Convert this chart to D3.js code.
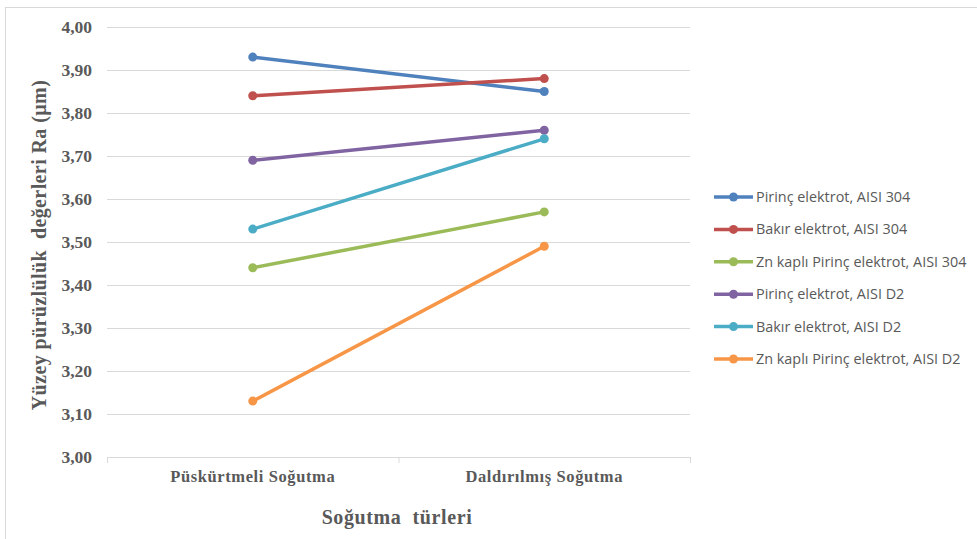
<!DOCTYPE html>
<html><head><meta charset="utf-8">
<script src="https://cdn.jsdelivr.net/npm/d3@7/dist/d3.min.js"></script>
<style>body{margin:0;background:#fff}svg{display:block}</style>
</head><body>
<svg id="c" width="977" height="539"></svg>
<script>
const categories = ["Püskürtmeli Soğutma", "Daldırılmış Soğutma"];
const seriesNames = ["Pirinç elektrot, AISI 304","Bakır elektrot, AISI 304","Zn kaplı Pirinç elektrot, AISI 304","Pirinç elektrot, AISI D2","Bakır elektrot, AISI D2","Zn kaplı Pirinç elektrot, AISI D2"];
const pirinc304 = [3.93, 3.85];
const bakir304 = [3.84, 3.88];
const zn304 = [3.44, 3.57];
const pirincD2 = [3.69, 3.76];
const bakirD2 = [3.53, 3.74];
const znD2 = [3.13, 3.49];
const colors = ["#4F81BD","#C0504D","#9BBB59","#8064A2","#4BACC6","#F79646"];
const yTicks = [3.0,3.1,3.2,3.3,3.4,3.5,3.6,3.7,3.8,3.9,4.0];
const yTitle = "Yüzey pürüzlülük  değerleri Ra (µm)";
const xTitle = "Soğutma  türleri";

const seriesValues = [pirinc304, bakir304, zn304, pirincD2, bakirD2, znD2];
const svg = d3.select("#c");
svg.append("rect").attr("x",5.5).attr("y",7.5).attr("width",1000).attr("height",600)
  .attr("fill","#fff").attr("stroke","#d9d9d9");

const pL=107, pR=690, pT=27, pB=457;
const x = d3.scaleBand().domain(categories).range([pL,pR]);
const y = d3.scaleLinear().domain([3.0,4.0]).range([pB,pT]);
const fmt = d => d.toFixed(2).replace(".", ",");

const serif = "'Liberation Serif','DejaVu Serif',serif";
// grid
svg.append("g").selectAll("line").data(yTicks).join("line")
  .attr("x1",pL).attr("x2",pR).attr("y1",d=>Math.round(y(d))+0.5).attr("y2",d=>Math.round(y(d))+0.5)
  .attr("stroke","#d9d9d9").attr("stroke-width",1);
// x ticks
const tickXs = [pL, ...categories.slice(1).map(c=>x(c)), pR];
svg.append("g").selectAll("line").data(tickXs).join("line")
  .attr("x1",d=>d+0.5).attr("x2",d=>d+0.5).attr("y1",pB).attr("y2",pB+6)
  .attr("stroke","#d9d9d9");
// y labels
const yAxis = d3.axisLeft(y).tickValues(yTicks).tickFormat(fmt).tickSize(0).tickPadding(15);
const ga = svg.append("g").attr("transform",`translate(${pL},0)`).call(yAxis);
ga.select(".domain").remove();
ga.selectAll("text").style("font-family",serif).style("font-weight","bold").style("font-size","17.5px").attr("fill","#595959");
// x labels
const xAxis = d3.axisBottom(x).tickSize(0).tickPadding(13);
const gx = svg.append("g").attr("transform",`translate(0,${pB})`).call(xAxis);
gx.select(".domain").remove();
gx.selectAll("text").style("font-family",serif).style("font-weight","bold").style("font-size","16.5px")
  .style("letter-spacing","0.6px").attr("fill","#595959");

// titles
svg.append("text").attr("transform",`translate(46,${(pT+pB)/2 + 3}) rotate(-90)`)
  .attr("text-anchor","middle").style("font-family",serif).style("font-weight","bold")
  .style("font-size","20px").style("letter-spacing","0.4px").attr("fill","#595959").style("white-space","pre").text(yTitle);
svg.append("text").attr("x",397).attr("y",524).attr("text-anchor","middle")
  .style("font-family",serif).style("font-weight","bold").style("font-size","20px").style("letter-spacing","0.6px").attr("fill","#595959")
  .style("white-space","pre").text(xTitle);

// lines
const line = d3.line().x((d,i)=>x(categories[i])+x.bandwidth()/2).y(d=>y(d));
seriesValues.forEach((vals,si)=>{
  const g = svg.append("g");
  g.append("path").attr("d",line(vals)).attr("fill","none").attr("stroke",colors[si]).attr("stroke-width",3.5).attr("stroke-linecap","round");
  g.selectAll("circle").data(vals).join("circle")
    .attr("cx",(d,i)=>x(categories[i])+x.bandwidth()/2).attr("cy",d=>y(d)).attr("r",4.5).attr("fill",colors[si]);
});

// legend
const lg = svg.append("g");
seriesNames.forEach((n,i)=>{
  const ly = 197 + i*32.4;
  lg.append("line").attr("x1",714).attr("x2",753).attr("y1",ly).attr("y2",ly).attr("stroke",colors[i]).attr("stroke-width",3.5);
  lg.append("circle").attr("cx",733.5).attr("cy",ly).attr("r",4.5).attr("fill",colors[i]);
  lg.append("text").attr("x",756).attr("y",ly+5).style("font-family","'Open Sans','Noto Sans',sans-serif")
    .style("font-size","14.4px").attr("fill","#595959").text(n);
});
</script>
</body></html>
